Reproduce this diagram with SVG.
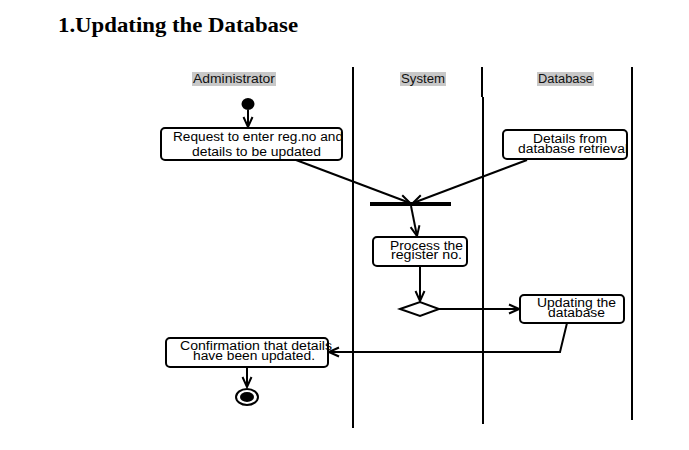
<svg xmlns="http://www.w3.org/2000/svg" width="689" height="450" viewBox="0 0 689 450">
<style>
.lane{stroke:#000;stroke-width:2;fill:none}
.box{fill:#fff;stroke:#000;stroke-width:2}
.edge{stroke:#000;stroke-width:2;fill:none}
.t{font-family:"Liberation Sans",Arial,sans-serif;font-size:12.5px;fill:#000}
.hdr{font-family:"Liberation Sans",Arial,sans-serif;font-size:12.5px;fill:#111}
.hbg{fill:#c8c8c8}
</style>
<defs>
<marker id="arr" viewBox="0 0 12 12" refX="11" refY="6" markerWidth="12" markerHeight="12" markerUnits="userSpaceOnUse" orient="auto">
<polyline points="1,1.5 11,6 1,10.5" fill="none" stroke="#000" stroke-width="2"/>
</marker>
</defs>
<rect width="689" height="450" fill="#fff"/>
<text x="58" y="32" font-family="'Liberation Serif','Times New Roman',serif" font-size="22" font-weight="bold" textLength="240" lengthAdjust="spacingAndGlyphs">1.Updating the Database</text>

<g id="lanes">
<line class="lane" x1="353" y1="67" x2="353" y2="428"/>
<line class="lane" x1="482" y1="67" x2="482" y2="97"/>
<line class="lane" x1="483" y1="97" x2="483" y2="424"/>
<line class="lane" x1="632" y1="67" x2="632" y2="420"/>
<rect class="hbg" x="192" y="72" width="84" height="14"/>
<text class="hdr" x="193" y="83" textLength="82" lengthAdjust="spacingAndGlyphs">Administrator</text>
<rect class="hbg" x="400" y="72" width="46" height="14"/>
<text class="hdr" x="401" y="83" textLength="44" lengthAdjust="spacingAndGlyphs">System</text>
<rect class="hbg" x="537" y="72" width="57" height="14"/>
<text class="hdr" x="538" y="83" textLength="55" lengthAdjust="spacingAndGlyphs">Database</text>
</g>

<g id="connectors">
<line class="edge" x1="248" y1="110" x2="248" y2="127" marker-end="url(#arr)"/>
<line class="edge" x1="296" y1="160" x2="410" y2="203" marker-end="url(#arr)"/>
<line class="edge" x1="527" y1="160" x2="413" y2="203" marker-end="url(#arr)"/>
<line class="edge" x1="411" y1="206" x2="417" y2="236" marker-end="url(#arr)"/>
<line class="edge" x1="420" y1="266" x2="420" y2="301" marker-end="url(#arr)"/>
<line class="edge" x1="439" y1="309" x2="519" y2="309" marker-end="url(#arr)"/>
<polyline class="edge" points="567,323 560,352 329,352" marker-end="url(#arr)"/>
<line class="edge" x1="247" y1="367" x2="247" y2="387" marker-end="url(#arr)"/>
</g>

<g id="start">
<ellipse cx="248" cy="104" rx="6.5" ry="6" fill="#000"/>
</g>

<g id="request">
<rect class="box" x="161" y="128" width="181" height="32" rx="4"/>
<text class="t" x="173" y="141" textLength="170" lengthAdjust="spacingAndGlyphs">Request to enter reg.no and</text>
<text class="t" x="192" y="156" textLength="129" lengthAdjust="spacingAndGlyphs">details to be updated</text>
</g>

<g id="details">
<rect class="box" x="503" y="130" width="124" height="29" rx="4"/>
<text class="t" x="533" y="143" textLength="74" lengthAdjust="spacingAndGlyphs">Details from</text>
<text class="t" x="518" y="153" textLength="110" lengthAdjust="spacingAndGlyphs">database retrieval</text>
</g>

<g id="fork">
<rect x="370" y="202" width="81" height="4" fill="#000"/>
</g>

<g id="process">
<rect class="box" x="373" y="237" width="94" height="29" rx="4"/>
<text class="t" x="390" y="250" textLength="73" lengthAdjust="spacingAndGlyphs">Process the</text>
<text class="t" x="391" y="259" textLength="71" lengthAdjust="spacingAndGlyphs">register no.</text>
</g>

<g id="decision">
<polygon points="400,309 420,302 439,309 420,316" fill="#fff" stroke="#000" stroke-width="2"/>
</g>

<g id="updating">
<rect class="box" x="520" y="295" width="104" height="28" rx="4"/>
<text class="t" x="537" y="307" textLength="79" lengthAdjust="spacingAndGlyphs">Updating the</text>
<text class="t" x="548" y="317" textLength="57" lengthAdjust="spacingAndGlyphs">database</text>
</g>

<g id="confirmation">
<rect class="box" x="166" y="338" width="162" height="29" rx="4"/>
<text class="t" x="180" y="350" textLength="152" lengthAdjust="spacingAndGlyphs">Confirmation that details</text>
<text class="t" x="193" y="360" textLength="122" lengthAdjust="spacingAndGlyphs">have been updated.</text>
</g>

<g id="end">
<ellipse cx="247" cy="397" rx="11" ry="8" fill="#fff" stroke="#000" stroke-width="2"/>
<ellipse cx="247" cy="397" rx="7" ry="5" fill="#000"/>
</g>
</svg>
